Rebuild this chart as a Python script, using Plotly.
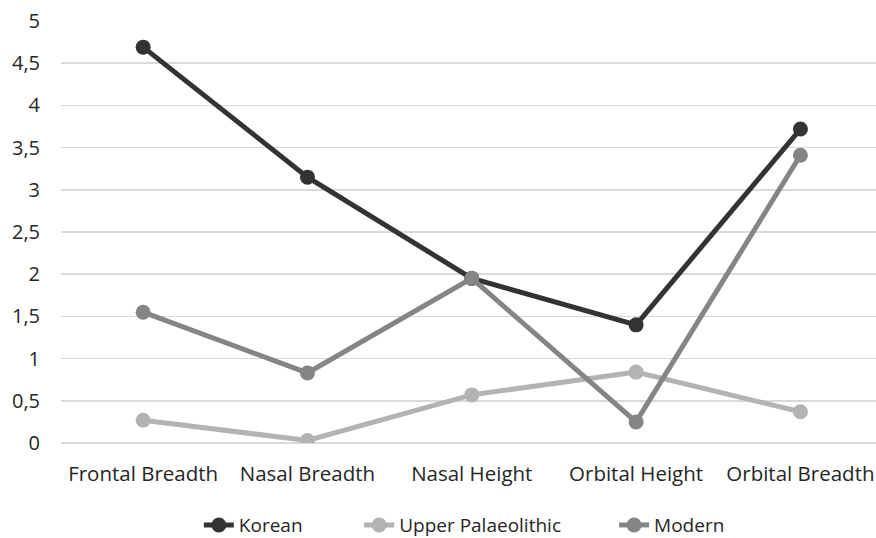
import plotly.graph_objects as go

categories = ["Frontal Breadth", "Nasal Breadth", "Nasal Height", "Orbital Height", "Orbital Breadth"]
korean = [4.69, 3.15, 1.95, 1.40, 3.72]
upper_palaeolithic = [0.27, 0.03, 0.57, 0.84, 0.37]
modern = [1.55, 0.83, 1.95, 0.25, 3.41]

series = [
    ("Korean", korean, "#333333", "legend", 0.227),
    ("Upper Palaeolithic", upper_palaeolithic, "#b3b3b3", "legend2", 0.410),
    ("Modern", modern, "#858585", "legend3", 0.701),
]

fig = go.Figure()
legends = {}
for name, vals, color, lg, lx in series:
    fig.add_trace(go.Scatter(
        x=list(range(len(categories))), y=vals, name=name, mode="lines+markers",
        line=dict(color=color, width=5),
        marker=dict(color=color, size=15),
        hoverinfo="skip", legend=lg,
    ))
    legends[lg] = dict(orientation="h", xref="container", yref="container",
                       x=lx, xanchor="left", y=0.024, yanchor="middle",
                       font=dict(size=19), bgcolor="rgba(0,0,0,0)")

fig.update_layout(
    width=876, height=538,
    margin=dict(l=61, r=0, t=21, b=95),
    paper_bgcolor="white", plot_bgcolor="white",
    separators=", ",
    font=dict(family="Open Sans", size=20, color="#262626"),
    showlegend=True,
    xaxis=dict(range=[-0.5, 4.46], tickmode="array",
               tickvals=list(range(len(categories))), ticktext=categories,
               tickfont=dict(size=20.5), ticklabeloverflow="allow",
               showgrid=False, zeroline=False, showline=False,
               ticks="", ticklabelstandoff=16, fixedrange=True),
    yaxis=dict(range=[0, 5], dtick=0.5, tick0=0, ticklabeloverflow="allow",
               showgrid=True, gridcolor="#d9d9d9", gridwidth=1.5,
               zeroline=True, zerolinecolor="#d9d9d9", zerolinewidth=1.5,
               showline=False, ticks="", ticklabelstandoff=20, fixedrange=True),
    **legends,
)

fig.write_html(
    "out.html",
    config={"displayModeBar": False, "staticPlot": True},
    post_script="document.body.style.margin='0';document.body.style.overflow='hidden';",
)
